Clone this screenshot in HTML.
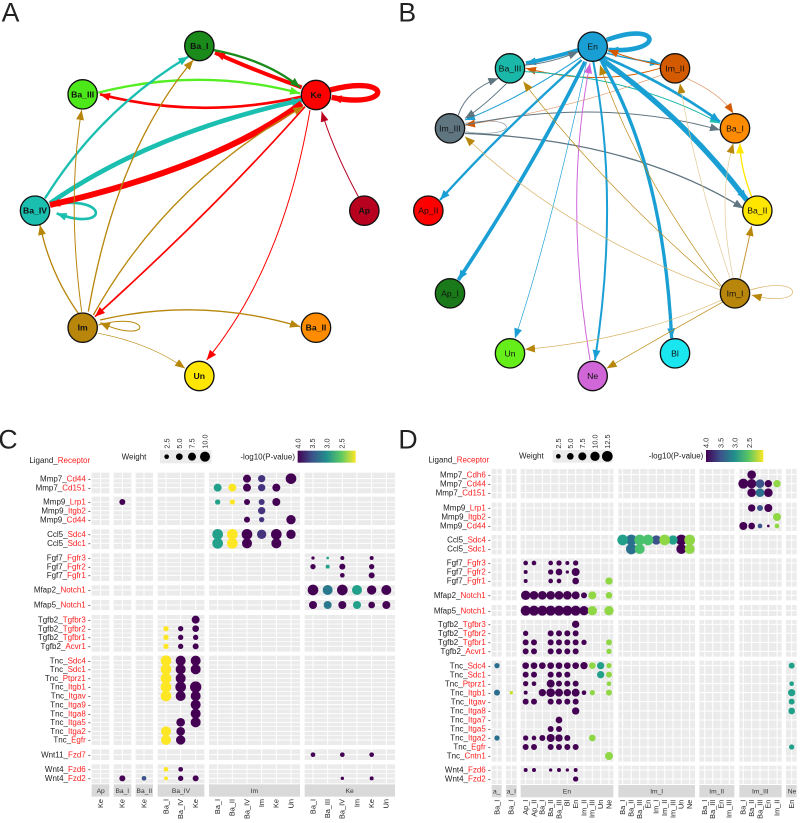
<!DOCTYPE html>
<html><head><meta charset="utf-8"><style>
html,body{margin:0;padding:0;background:#fff;}
svg{display:block;font-family:"Liberation Sans",sans-serif;}
</style></head><body>
<svg width="800" height="823" viewBox="0 0 800 823" xmlns="http://www.w3.org/2000/svg">
<defs>
<marker id="mRed" markerUnits="userSpaceOnUse" markerWidth="32" markerHeight="26" refX="30" refY="12" orient="auto"><path d="M0,0 L30,12 L0,24 z" fill="#ff0000"/></marker>
<marker id="mTeal" markerUnits="userSpaceOnUse" markerWidth="32" markerHeight="26" refX="30" refY="12" orient="auto"><path d="M0,0 L30,12 L0,24 z" fill="#1abfb0"/></marker>
<marker id="mGreen" markerUnits="userSpaceOnUse" markerWidth="32" markerHeight="26" refX="30" refY="12" orient="auto"><path d="M0,0 L30,12 L0,24 z" fill="#1a8a1a"/></marker>
<marker id="mLime" markerUnits="userSpaceOnUse" markerWidth="32" markerHeight="26" refX="30" refY="12" orient="auto"><path d="M0,0 L30,12 L0,24 z" fill="#55ee22"/></marker>
<marker id="mGold" markerUnits="userSpaceOnUse" markerWidth="32" markerHeight="26" refX="30" refY="12" orient="auto"><path d="M0,0 L30,12 L0,24 z" fill="#b8860b"/></marker>
<marker id="mCrim" markerUnits="userSpaceOnUse" markerWidth="32" markerHeight="26" refX="30" refY="12" orient="auto"><path d="M0,0 L30,12 L0,24 z" fill="#b8001f"/></marker>
<marker id="mBlue" markerUnits="userSpaceOnUse" markerWidth="32" markerHeight="26" refX="30" refY="12" orient="auto"><path d="M0,0 L30,12 L0,24 z" fill="#1a9fd4"/></marker>
<marker id="mGrey" markerUnits="userSpaceOnUse" markerWidth="32" markerHeight="26" refX="30" refY="12" orient="auto"><path d="M0,0 L30,12 L0,24 z" fill="#5f7580"/></marker>
<marker id="mOr" markerUnits="userSpaceOnUse" markerWidth="32" markerHeight="26" refX="30" refY="12" orient="auto"><path d="M0,0 L30,12 L0,24 z" fill="#d45a00"/></marker>
<marker id="mMag" markerUnits="userSpaceOnUse" markerWidth="32" markerHeight="26" refX="30" refY="12" orient="auto"><path d="M0,0 L30,12 L0,24 z" fill="#d066d8"/></marker>
<marker id="mYel" markerUnits="userSpaceOnUse" markerWidth="32" markerHeight="26" refX="30" refY="12" orient="auto"><path d="M0,0 L30,12 L0,24 z" fill="#ffe600"/></marker>
<linearGradient id="vir" x1="0" x2="1" y1="0" y2="0">
<stop offset="0" stop-color="#440154"/><stop offset="0.25" stop-color="#3b528b"/><stop offset="0.5" stop-color="#21908d"/><stop offset="0.75" stop-color="#5dc863"/><stop offset="1" stop-color="#fde725"/>
</linearGradient>
</defs>

<!-- ============ PANEL A ============ -->
<g transform="scale(0.33333)">
<text x="5" y="65" font-size="80" fill="#222">A</text>
<g fill="none">
<path d="M150,615 C330,580 330,700 170,640" stroke="#1abfb0" stroke-width="8" marker-end="url(#mTeal)"/>
<path d="M990,270 C1180,220 1180,330 995,292" stroke="#ff0000" stroke-width="16" marker-end="url(#mRed)"/>
<path d="M295,975 C460,930 460,1040 300,968" stroke="#b8860b" stroke-width="3" marker-end="url(#mGold)"/>
<path d="M905,262 Q760,210 645,158" stroke="#ff0000" stroke-width="12" marker-end="url(#mRed)"/>
<path d="M640,150 Q800,180 900,262" stroke="#1a8a1a" stroke-width="7" marker-end="url(#mGreen)"/>
<path d="M295,278 Q600,200 900,280" stroke="#55ee22" stroke-width="7" marker-end="url(#mLime)"/>
<path d="M905,290 Q600,360 300,283" stroke="#ff0000" stroke-width="8" marker-end="url(#mRed)"/>
<path d="M150,610 Q450,400 905,300" stroke="#1abfb0" stroke-width="14" marker-end="url(#mTeal)"/>
<path d="M905,310 Q650,500 150,615" stroke="#ff0000" stroke-width="18" marker-end="url(#mRed)"/>
<path d="M135,595 Q300,330 565,170" stroke="#1abfb0" stroke-width="7" marker-end="url(#mTeal)"/>
<path d="M265,935 Q350,450 580,180" stroke="#b8860b" stroke-width="4" marker-end="url(#mGold)"/>
<path d="M245,935 Q200,600 245,330" stroke="#b8860b" stroke-width="3" marker-end="url(#mGold)"/>
<path d="M235,940 Q150,820 120,675" stroke="#b8860b" stroke-width="4" marker-end="url(#mGold)"/>
<path d="M280,945 Q500,550 910,320" stroke="#b8860b" stroke-width="4" marker-end="url(#mGold)"/>
<path d="M915,320 Q650,620 285,950" stroke="#ff0000" stroke-width="5" marker-end="url(#mRed)"/>
<path d="M930,330 Q850,800 620,1080" stroke="#ff0000" stroke-width="3" marker-end="url(#mRed)"/>
<path d="M1075,590 Q1000,450 965,335" stroke="#b8001f" stroke-width="3" marker-end="url(#mCrim)"/>
<path d="M300,960 Q600,890 900,980" stroke="#b8860b" stroke-width="4" marker-end="url(#mGold)"/>
<path d="M295,1000 Q450,1030 555,1105" stroke="#b8860b" stroke-width="2" marker-end="url(#mGold)"/>
</g>
<g stroke="#111" stroke-width="4" font-size="26" font-weight="bold" text-anchor="middle">
<circle cx="598" cy="138" r="44" fill="#1a8a1a"/><text x="598" y="147" stroke="none" fill="#111">Ba_I</text>
<circle cx="248" cy="283" r="44" fill="#4de81a"/><text x="248" y="292" stroke="none" fill="#111">Ba_III</text>
<circle cx="948" cy="285" r="44" fill="#ff0000"/><text x="948" y="294" stroke="none" fill="#111">Ke</text>
<circle cx="105" cy="632" r="44" fill="#1abfb0"/><text x="105" y="641" stroke="none" fill="#111">Ba_IV</text>
<circle cx="1093" cy="632" r="44" fill="#b8001f"/><text x="1093" y="641" stroke="none" fill="#111">Ap</text>
<circle cx="248" cy="983" r="44" fill="#b8860b"/><text x="248" y="992" stroke="none" fill="#111">Im</text>
<circle cx="948" cy="983" r="44" fill="#ff8c00"/><text x="948" y="992" stroke="none" fill="#111">Ba_II</text>
<circle cx="598" cy="1128" r="44" fill="#ffe600"/><text x="598" y="1137" stroke="none" fill="#111">Un</text>
</g>
</g>

<!-- ============ PANEL B ============ -->
<g transform="translate(400,0) scale(0.33333)">
<text x="-5" y="65" font-size="80" fill="#222">B</text>
<g fill="none">
<path d="M620,120 C780,60 800,160 625,150" stroke="#1a9fd4" stroke-width="14" marker-end="url(#mBlue)"/>
<path d="M1050,870 C1220,820 1220,930 1055,885" stroke="#d8b060" stroke-width="2" marker-end="url(#mGold)"/>
<path d="M195,370 C360,340 360,420 198,395" stroke="#8a9aa0" stroke-width="2"/>
<path d="M535,150 Q450,175 378,190" stroke="#1a9fd4" stroke-width="12" marker-end="url(#mBlue)"/>
<path d="M375,195 Q450,190 535,155" stroke="#5f7580" stroke-width="3" marker-end="url(#mGrey)"/>
<path d="M620,160 Q700,180 780,190" stroke="#1a9fd4" stroke-width="4" marker-end="url(#mBlue)"/>
<path d="M780,195 Q700,180 625,150" stroke="#d45a00" stroke-width="3" marker-end="url(#mOr)"/>
<path d="M780,205 Q600,260 378,205" stroke="#d45a00" stroke-width="3" marker-end="url(#mOr)"/>
<path d="M375,215 Q700,230 960,370" stroke="#1ab8a8" stroke-width="3" marker-end="url(#mTeal)"/>
<path d="M545,170 Q350,300 195,360" stroke="#1a9fd4" stroke-width="3" marker-end="url(#mBlue)"/>
<path d="M785,225 Q500,330 195,375" stroke="#e09060" stroke-width="2" marker-end="url(#mOr)"/>
<path d="M175,345 Q200,270 295,235" stroke="#5f7580" stroke-width="3" marker-end="url(#mGrey)"/>
<path d="M320,250 Q250,320 195,355" stroke="#5f7580" stroke-width="3" marker-end="url(#mGrey)"/>
<path d="M195,375 Q600,290 960,390" stroke="#5f7580" stroke-width="3" marker-end="url(#mGrey)"/>
<path d="M195,400 Q700,420 1030,625" stroke="#5f7580" stroke-width="4" marker-end="url(#mGrey)"/>
<path d="M610,170 Q800,250 960,365" stroke="#1a9fd4" stroke-width="8" marker-end="url(#mBlue)"/>
<path d="M600,175 Q850,350 1040,600" stroke="#1a9fd4" stroke-width="16" marker-end="url(#mBlue)"/>
<path d="M545,180 Q300,400 120,600" stroke="#1a9fd4" stroke-width="7" marker-end="url(#mBlue)"/>
<path d="M555,185 Q400,500 175,840" stroke="#1a9fd4" stroke-width="11" marker-end="url(#mBlue)"/>
<path d="M560,185 Q450,700 345,1015" stroke="#1a9fd4" stroke-width="2" marker-end="url(#mBlue)"/>
<path d="M580,185 Q660,600 585,1080" stroke="#1a9fd4" stroke-width="6" marker-end="url(#mBlue)"/>
<path d="M570,1080 Q490,600 570,190" stroke="#d066d8" stroke-width="3" marker-end="url(#mMag)"/>
<path d="M605,185 Q790,500 815,1015" stroke="#1a9fd4" stroke-width="10" marker-end="url(#mBlue)"/>
<path d="M965,860 Q700,500 600,195" stroke="#b8860b" stroke-width="2" marker-end="url(#mGold)"/>
<path d="M960,860 Q600,550 370,245" stroke="#b8860b" stroke-width="2" marker-end="url(#mGold)"/>
<path d="M960,870 Q500,700 195,410" stroke="#d8b060" stroke-width="2" marker-end="url(#mGold)"/>
<path d="M990,835 Q880,500 840,250" stroke="#e0c890" stroke-width="2" marker-end="url(#mGold)"/>
<path d="M1000,835 Q950,600 1000,430" stroke="#e0c890" stroke-width="2" marker-end="url(#mGold)"/>
<path d="M1020,835 Q1040,750 1055,678" stroke="#c89838" stroke-width="3" marker-end="url(#mGold)"/>
<path d="M1055,590 Q1020,500 1020,430" stroke="#ffe600" stroke-width="4" marker-end="url(#mYel)"/>
<path d="M860,235 Q960,280 1000,340" stroke="#e09060" stroke-width="2" marker-end="url(#mOr)"/>
<path d="M965,900 Q700,1020 375,1048" stroke="#d8b060" stroke-width="2" marker-end="url(#mGold)"/>
<path d="M970,905 Q800,1000 620,1105" stroke="#b8860b" stroke-width="2" marker-end="url(#mGold)"/>
</g>
<g stroke="#111" stroke-width="4" font-size="26" text-anchor="middle">
<circle cx="578" cy="140" r="44" fill="#1a9fd4"/><text x="578" y="149" stroke="none" fill="#111">En</text>
<circle cx="330" cy="205" r="44" fill="#1ab8a8"/><text x="330" y="214" stroke="none" fill="#111">Ba_III</text>
<circle cx="825" cy="205" r="44" fill="#d45a00"/><text x="825" y="214" stroke="none" fill="#111">Im_II</text>
<circle cx="150" cy="385" r="44" fill="#5f7580"/><text x="150" y="394" stroke="none" fill="#111">Im_III</text>
<circle cx="1005" cy="385" r="44" fill="#ff8c00"/><text x="1005" y="394" stroke="none" fill="#111">Ba_I</text>
<circle cx="85" cy="632" r="44" fill="#ff0000"/><text x="85" y="641" stroke="none" fill="#111">Ap_II</text>
<circle cx="1072" cy="632" r="44" fill="#ffe600"/><text x="1072" y="641" stroke="none" fill="#111">Ba_II</text>
<circle cx="150" cy="880" r="44" fill="#1a7a1a"/><text x="150" y="889" stroke="none" fill="#111">Ap_I</text>
<circle cx="1005" cy="880" r="44" fill="#b8860b"/><text x="1005" y="889" stroke="none" fill="#111">Im_I</text>
<circle cx="330" cy="1060" r="44" fill="#66ee1a"/><text x="330" y="1069" stroke="none" fill="#111">Un</text>
<circle cx="825" cy="1060" r="44" fill="#1ae6f0"/><text x="825" y="1069" stroke="none" fill="#111">Bl</text>
<circle cx="578" cy="1128" r="44" fill="#d066d8"/><text x="578" y="1137" stroke="none" fill="#111">Ne</text>
</g>
</g>

<!-- ============ PANEL C ============ -->
<g transform="translate(0,400) scale(0.33333)">
<text x="-5" y="145" font-size="80" fill="#222">C</text>
<text x="88" y="189" font-size="24" fill="#222">Ligand_<tspan fill="#ff2020">Receptor</tspan></text>
<text x="365" y="178" font-size="24" fill="#222">Weight</text>
<rect x="480" y="150" width="155" height="40" fill="#ebebeb"/>
<g fill="#000"><circle cx="500" cy="170" r="7"/><circle cx="538" cy="170" r="10"/><circle cx="576" cy="170" r="12"/><circle cx="615" cy="170" r="15"/></g>
<g font-size="22" fill="#333" text-anchor="start">
<text transform="translate(508,146) rotate(-90)">2.5</text>
<text transform="translate(546,146) rotate(-90)">5.0</text>
<text transform="translate(584,146) rotate(-90)">7.5</text>
<text transform="translate(623,146) rotate(-90)">10.0</text>
<text transform="translate(901,146) rotate(-90)">4.0</text>
<text transform="translate(945,146) rotate(-90)">3.5</text>
<text transform="translate(989,146) rotate(-90)">3.0</text>
<text transform="translate(1033,146) rotate(-90)">2.5</text>
</g>
<text x="885" y="178" font-size="24" fill="#222" text-anchor="end">-log10(P-value)</text>
<rect x="893" y="152" width="174" height="36" fill="url(#vir)"/>
<g fill="#ebebeb">
<path d="M275,218h53v62h-53z M341,218h53v62h-53z M407,218h52v62h-52z M473,218h140v62h-140z M627,218h273v62h-273z M914,218h271v62h-271z"/>
<path d="M275,290h53v85h-53z M341,290h53v85h-53z M407,290h52v85h-52z M473,290h140v85h-140z M627,290h273v85h-273z M914,290h271v85h-271z"/>
<path d="M275,388h53v59h-53z M341,388h53v59h-53z M407,388h52v59h-52z M473,388h140v59h-140z M627,388h273v59h-273z M914,388h271v59h-271z"/>
<path d="M275,460h53v83h-53z M341,460h53v83h-53z M407,460h52v83h-52z M473,460h140v83h-140z M627,460h273v83h-273z M914,460h271v83h-271z"/>
<path d="M275,556h53v31h-53z M341,556h53v31h-53z M407,556h52v31h-52z M473,556h140v31h-140z M627,556h273v31h-273z M914,556h271v31h-271z"/>
<path d="M275,600h53v30h-53z M341,600h53v30h-53z M407,600h52v30h-52z M473,600h140v30h-140z M627,600h273v30h-273z M914,600h271v30h-271z"/>
<path d="M275,645h53v110h-53z M341,645h53v110h-53z M407,645h52v110h-52z M473,645h140v110h-140z M627,645h273v110h-273z M914,645h271v110h-271z"/>
<path d="M275,767h53v268h-53z M341,767h53v268h-53z M407,767h52v268h-52z M473,767h140v268h-140z M627,767h273v268h-273z M914,767h271v268h-271z"/>
<path d="M275,1048h53v32h-53z M341,1048h53v32h-53z M407,1048h52v32h-52z M473,1048h140v32h-140z M627,1048h273v32h-273z M914,1048h271v32h-271z"/>
<path d="M275,1093h53v57h-53z M341,1093h53v57h-53z M407,1093h52v57h-52z M473,1093h140v57h-140z M627,1093h273v57h-273z M914,1093h271v57h-271z"/>
</g>
<g fill="#d9d9d9">
<rect x="275" y="1153" width="53" height="37"/><rect x="341" y="1153" width="53" height="37"/><rect x="407" y="1153" width="52" height="37"/><rect x="473" y="1153" width="140" height="37"/><rect x="627" y="1153" width="273" height="37"/><rect x="914" y="1153" width="271" height="37"/>
</g>
<g font-size="20" fill="#333" text-anchor="middle">
<text x="302" y="1179">Ap</text><text x="367" y="1179">Ba_I</text><text x="433" y="1179">Ba_II</text><text x="543" y="1179">Ba_IV</text><text x="763" y="1179">Im</text><text x="1049" y="1179">Ke</text>
</g>
<g stroke="#fff" stroke-width="3">
<path d="M302,218V1150 M367,218V1150 M432,218V1150 M498,218V1150 M542,218V1150 M587,218V1150 M653,218V1150 M697,218V1150 M741,218V1150 M785,218V1150 M829,218V1150 M873,218V1150 M939,218V1150 M983,218V1150 M1027,218V1150 M1071,218V1150 M1115,218V1150 M1159,218V1150"/>
<path d="M275,236H1185 M275,263H1185 M275,306H1185 M275,332H1185 M275,359H1185 M275,403H1185 M275,430H1185 M275,474H1185 M275,500H1185 M275,526H1185 M275,570H1185 M275,615H1185 M275,659H1185 M275,686H1185 M275,712H1185 M275,739H1185 M275,782H1185 M275,808H1185 M275,835H1185 M275,861H1185 M275,888H1185 M275,914H1185 M275,941H1185 M275,967H1185 M275,994H1185 M275,1020H1185 M275,1064H1185 M275,1108H1185 M275,1135H1185"/>
</g>
<g stroke="#fff" stroke-width="2" fill="none">
<path d="M275,249H1185 M275,319H1185 M275,345H1185 M275,416H1185 M275,487H1185 M275,513H1185 M275,672H1185 M275,699H1185 M275,725H1185 M275,795H1185 M275,821H1185 M275,848H1185 M275,874H1185 M275,901H1185 M275,927H1185 M275,954H1185 M275,980H1185 M275,1007H1185 M275,1121H1185"/>
</g>
<g font-size="24" fill="#222" text-anchor="end">
<text x="272" y="244">Mmp7_<tspan fill="#ff2020">Cd44</tspan> -</text>
<text x="272" y="271">Mmp7_<tspan fill="#ff2020">Cd151</tspan> -</text>
<text x="272" y="314">Mmp9_<tspan fill="#ff2020">Lrp1</tspan> -</text>
<text x="272" y="340">Mmp9_<tspan fill="#ff2020">Itgb2</tspan> -</text>
<text x="272" y="367">Mmp9_<tspan fill="#ff2020">Cd44</tspan> -</text>
<text x="272" y="411">Ccl5_<tspan fill="#ff2020">Sdc4</tspan> -</text>
<text x="272" y="438">Ccl5_<tspan fill="#ff2020">Sdc1</tspan> -</text>
<text x="272" y="482">Fgf7_<tspan fill="#ff2020">Fgfr3</tspan> -</text>
<text x="272" y="508">Fgf7_<tspan fill="#ff2020">Fgfr2</tspan> -</text>
<text x="272" y="534">Fgf7_<tspan fill="#ff2020">Fgfr1</tspan> -</text>
<text x="272" y="578">Mfap2_<tspan fill="#ff2020">Notch1</tspan> -</text>
<text x="272" y="623">Mfap5_<tspan fill="#ff2020">Notch1</tspan> -</text>
<text x="272" y="667">Tgfb2_<tspan fill="#ff2020">Tgfbr3</tspan> -</text>
<text x="272" y="694">Tgfb2_<tspan fill="#ff2020">Tgfbr2</tspan> -</text>
<text x="272" y="720">Tgfb2_<tspan fill="#ff2020">Tgfbr1</tspan> -</text>
<text x="272" y="747">Tgfb2_<tspan fill="#ff2020">Acvr1</tspan> -</text>
<text x="272" y="790">Tnc_<tspan fill="#ff2020">Sdc4</tspan> -</text>
<text x="272" y="816">Tnc_<tspan fill="#ff2020">Sdc1</tspan> -</text>
<text x="272" y="843">Tnc_<tspan fill="#ff2020">Ptprz1</tspan> -</text>
<text x="272" y="869">Tnc_<tspan fill="#ff2020">Itgb1</tspan> -</text>
<text x="272" y="896">Tnc_<tspan fill="#ff2020">Itgav</tspan> -</text>
<text x="272" y="922">Tnc_<tspan fill="#ff2020">Itga9</tspan> -</text>
<text x="272" y="949">Tnc_<tspan fill="#ff2020">Itga8</tspan> -</text>
<text x="272" y="975">Tnc_<tspan fill="#ff2020">Itga5</tspan> -</text>
<text x="272" y="1002">Tnc_<tspan fill="#ff2020">Itga2</tspan> -</text>
<text x="272" y="1028">Tnc_<tspan fill="#ff2020">Egfr</tspan> -</text>
<text x="272" y="1072">Wnt11_<tspan fill="#ff2020">Fzd7</tspan> -</text>
<text x="272" y="1116">Wnt4_<tspan fill="#ff2020">Fzd6</tspan> -</text>
<text x="272" y="1143">Wnt4_<tspan fill="#ff2020">Fzd2</tspan> -</text>
</g>
<g font-size="22" fill="#222" text-anchor="end">
<text transform="translate(309,1197) rotate(-90)">Ke</text>
<text transform="translate(374,1197) rotate(-90)">Ke</text>
<text transform="translate(439,1197) rotate(-90)">Ke</text>
<text transform="translate(505,1197) rotate(-90)">Ba_I</text>
<text transform="translate(549,1197) rotate(-90)">Ba_IV</text>
<text transform="translate(594,1197) rotate(-90)">Ke</text>
<text transform="translate(660,1197) rotate(-90)">Ba_I</text>
<text transform="translate(704,1197) rotate(-90)">Ba_II</text>
<text transform="translate(748,1197) rotate(-90)">Ba_IV</text>
<text transform="translate(792,1197) rotate(-90)">Im</text>
<text transform="translate(836,1197) rotate(-90)">Ke</text>
<text transform="translate(880,1197) rotate(-90)">Un</text>
<text transform="translate(946,1197) rotate(-90)">Ba_I</text>
<text transform="translate(990,1197) rotate(-90)">Ba_III</text>
<text transform="translate(1034,1197) rotate(-90)">Ba_IV</text>
<text transform="translate(1078,1197) rotate(-90)">Im</text>
<text transform="translate(1122,1197) rotate(-90)">Ke</text>
<text transform="translate(1166,1197) rotate(-90)">Un</text>
</g>
<g fill="#440154">
<circle cx="741" cy="236" r="12"/><circle cx="873" cy="236" r="16"/>
<circle cx="741" cy="263" r="12"/><circle cx="829" cy="263" r="12"/>
<circle cx="367" cy="306" r="9"/><circle cx="741" cy="306" r="9"/><circle cx="829" cy="306" r="12"/>
<circle cx="741" cy="359" r="9"/><circle cx="873" cy="359" r="14"/>
<circle cx="741" cy="403" r="16"/><circle cx="829" cy="403" r="16"/><circle cx="873" cy="403" r="14"/>
<circle cx="741" cy="430" r="15"/><circle cx="829" cy="430" r="15"/>
<circle cx="939" cy="474" r="5"/><circle cx="1027" cy="474" r="6"/><circle cx="1115" cy="474" r="6"/>
<circle cx="939" cy="500" r="8"/><circle cx="1027" cy="500" r="9"/><circle cx="1115" cy="500" r="8"/>
<circle cx="1027" cy="526" r="7"/><circle cx="1115" cy="526" r="9"/>
<circle cx="939" cy="570" r="16"/><circle cx="1027" cy="570" r="16"/><circle cx="1115" cy="570" r="14"/><circle cx="1159" cy="570" r="15"/>
<circle cx="939" cy="615" r="12"/><circle cx="1027" cy="615" r="12"/><circle cx="1115" cy="615" r="10"/><circle cx="1159" cy="615" r="12"/>
<circle cx="587" cy="659" r="12"/>
<circle cx="542" cy="686" r="8"/><circle cx="587" cy="686" r="10"/>
<circle cx="542" cy="712" r="8"/><circle cx="587" cy="712" r="8"/>
<circle cx="542" cy="739" r="8"/><circle cx="587" cy="739" r="9"/>
<circle cx="542" cy="782" r="15"/><circle cx="587" cy="782" r="15"/>
<circle cx="542" cy="808" r="15"/><circle cx="587" cy="808" r="15"/>
<circle cx="542" cy="835" r="15"/>
<circle cx="542" cy="861" r="16"/><circle cx="587" cy="861" r="17"/>
<circle cx="542" cy="888" r="15"/><circle cx="587" cy="888" r="15"/>
<circle cx="587" cy="914" r="15"/>
<circle cx="587" cy="941" r="15"/>
<circle cx="542" cy="967" r="13"/><circle cx="587" cy="967" r="15"/>
<circle cx="542" cy="994" r="13"/>
<circle cx="542" cy="1020" r="14"/>
<circle cx="939" cy="1064" r="7"/><circle cx="1027" cy="1064" r="7"/><circle cx="1115" cy="1064" r="7"/>
<circle cx="542" cy="1108" r="7"/>
<circle cx="367" cy="1135" r="9"/><circle cx="542" cy="1135" r="8"/><circle cx="587" cy="1135" r="9"/><circle cx="1027" cy="1135" r="5"/><circle cx="1115" cy="1135" r="6"/>
</g>
<g fill="#46337e">
<circle cx="785" cy="236" r="11"/><circle cx="785" cy="263" r="11"/><circle cx="785" cy="306" r="9"/><circle cx="785" cy="332" r="11"/><circle cx="785" cy="359" r="8"/><circle cx="785" cy="403" r="14"/>
</g>
<g fill="#22a08a">
<circle cx="653" cy="263" r="12"/><circle cx="653" cy="306" r="8"/><circle cx="653" cy="403" r="16"/><circle cx="653" cy="430" r="16"/><circle cx="983" cy="474" r="4"/><circle cx="983" cy="500" r="6"/><circle cx="1071" cy="570" r="15"/><circle cx="1071" cy="615" r="12"/>
</g>
<g fill="#2a788e"><circle cx="983" cy="570" r="15"/><circle cx="983" cy="615" r="12"/></g>
<circle cx="432" cy="1135" r="7" fill="#3b528b"/>
<g fill="#fde725">
<circle cx="697" cy="263" r="12"/><circle cx="697" cy="306" r="8"/><circle cx="697" cy="403" r="16"/><circle cx="697" cy="430" r="16"/>
<circle cx="498" cy="686" r="8"/><circle cx="498" cy="712" r="8"/><circle cx="498" cy="739" r="8"/>
<circle cx="498" cy="782" r="16"/><circle cx="498" cy="808" r="16"/><circle cx="498" cy="835" r="16"/><circle cx="498" cy="861" r="16"/><circle cx="498" cy="888" r="16"/>
<circle cx="498" cy="994" r="15"/><circle cx="498" cy="1020" r="15"/>
<circle cx="498" cy="1108" r="7"/><circle cx="498" cy="1135" r="6"/>
</g>
</g>

<!-- ============ PANEL D ============ -->
<g transform="translate(400,400) scale(0.33333)">
<text x="-5" y="145" font-size="80" fill="#222">D</text>
<text x="85" y="188" font-size="24" fill="#222">Ligand_<tspan fill="#ff2020">Receptor</tspan></text>
<text x="357" y="176" font-size="24" fill="#222">Weight</text>
<rect x="458" y="150" width="179" height="38" fill="#ebebeb"/>
<g fill="#000"><circle cx="475" cy="169" r="7"/><circle cx="511" cy="169" r="10"/><circle cx="547" cy="169" r="12"/><circle cx="585" cy="169" r="14"/><circle cx="622" cy="169" r="16"/></g>
<g font-size="22" fill="#333">
<text transform="translate(483,146) rotate(-90)">2.5</text>
<text transform="translate(519,146) rotate(-90)">5.0</text>
<text transform="translate(555,146) rotate(-90)">7.5</text>
<text transform="translate(593,146) rotate(-90)">10.0</text>
<text transform="translate(630,146) rotate(-90)">12.5</text>
<text transform="translate(926,144) rotate(-90)">4.0</text>
<text transform="translate(970,144) rotate(-90)">3.5</text>
<text transform="translate(1013,144) rotate(-90)">3.0</text>
<text transform="translate(1056,144) rotate(-90)">2.5</text>
</g>
<text x="910" y="176" font-size="24" fill="#222" text-anchor="end">-log10(P-value)</text>
<rect x="918" y="150" width="172" height="36" fill="url(#vir)"/>
<g fill="#ebebeb">
<path d="M275,207h30v88h-30z M318,207h32v88h-32z M362,207h278v88h-278z M655,207h230v88h-230z M898,207h105v88h-105z M1018,207h127v88h-127z M1158,207h32v88h-32z"/>
<path d="M275,308h30v85h-30z M318,308h32v85h-32z M362,308h278v85h-278z M655,308h230v85h-230z M898,308h105v85h-105z M1018,308h127v85h-127z M1158,308h32v85h-32z"/>
<path d="M275,405h30v58h-30z M318,405h32v58h-32z M362,405h278v58h-278z M655,405h230v58h-230z M898,405h105v58h-105z M1018,405h127v58h-127z M1158,405h32v58h-32z"/>
<path d="M275,475h30v85h-30z M318,475h32v85h-32z M362,475h278v85h-278z M655,475h230v85h-230z M898,475h105v85h-105z M1018,475h127v85h-127z M1158,475h32v85h-32z"/>
<path d="M275,571h30v30h-30z M318,571h32v30h-32z M362,571h278v30h-278z M655,571h230v30h-230z M898,571h105v30h-105z M1018,571h127v30h-127z M1158,571h32v30h-32z"/>
<path d="M275,615h30v33h-30z M318,615h32v33h-32z M362,615h278v33h-278z M655,615h230v33h-230z M898,615h105v33h-105z M1018,615h127v33h-127z M1158,615h32v33h-32z"/>
<path d="M275,660h30v110h-30z M318,660h32v110h-32z M362,660h278v110h-278z M655,660h230v110h-230z M898,660h105v110h-105z M1018,660h127v110h-127z M1158,660h32v110h-32z"/>
<path d="M275,782h30v303h-30z M318,782h32v303h-32z M362,782h278v303h-278z M655,782h230v303h-230z M898,782h105v303h-105z M1018,782h127v303h-127z M1158,782h32v303h-32z"/>
<path d="M275,1097h30v55h-30z M318,1097h32v55h-32z M362,1097h278v55h-278z M655,1097h230v55h-230z M898,1097h105v55h-105z M1018,1097h127v55h-127z M1158,1097h32v55h-32z"/>
</g>
<g fill="#d9d9d9">
<rect x="275" y="1155" width="30" height="37"/><rect x="318" y="1155" width="32" height="37"/><rect x="362" y="1155" width="278" height="37"/><rect x="655" y="1155" width="230" height="37"/><rect x="898" y="1155" width="105" height="37"/><rect x="1018" y="1155" width="127" height="37"/><rect x="1158" y="1155" width="32" height="37"/>
</g>
<g font-size="20" fill="#333" text-anchor="middle">
<text x="290" y="1181">a_</text><text x="334" y="1181">a_I</text><text x="501" y="1181">En</text><text x="770" y="1181">Im_I</text><text x="950" y="1181">Im_II</text><text x="1081" y="1181">Im_III</text><text x="1176" y="1181">Ne</text>
</g>
<g stroke="#fff" stroke-width="3">
<path d="M291,207V1152 M334,207V1152 M377,207V1152 M402,207V1152 M427,207V1152 M452,207V1152 M477,207V1152 M502,207V1152 M527,207V1152 M552,207V1152 M577,207V1152 M602,207V1152 M627,207V1152 M668,207V1152 M694,207V1152 M719,207V1152 M744,207V1152 M769,207V1152 M794,207V1152 M819,207V1152 M844,207V1152 M869,207V1152 M914,207V1152 M938,207V1152 M963,207V1152 M988,207V1152 M1030,207V1152 M1055,207V1152 M1080,207V1152 M1105,207V1152 M1131,207V1152 M1175,207V1152"/>
<path d="M275,224H1190 M275,251H1190 M275,278H1190 M275,324H1190 M275,351H1190 M275,378H1190 M275,420H1190 M275,447H1190 M275,489H1190 M275,516H1190 M275,543H1190 M275,586H1190 M275,632H1190 M275,673H1190 M275,700H1190 M275,727H1190 M275,754H1190 M275,797H1190 M275,824H1190 M275,851H1190 M275,878H1190 M275,905H1190 M275,933H1190 M275,960H1190 M275,987H1190 M275,1014H1190 M275,1041H1190 M275,1068H1190 M275,1110H1190 M275,1137H1190"/>
</g>
<g font-size="24" fill="#222" text-anchor="end">
<text x="272" y="232">Mmp7_<tspan fill="#ff2020">Cdh6</tspan> -</text>
<text x="272" y="259">Mmp7_<tspan fill="#ff2020">Cd44</tspan> -</text>
<text x="272" y="286">Mmp7_<tspan fill="#ff2020">Cd151</tspan> -</text>
<text x="272" y="332">Mmp9_<tspan fill="#ff2020">Lrp1</tspan> -</text>
<text x="272" y="359">Mmp9_<tspan fill="#ff2020">Itgb2</tspan> -</text>
<text x="272" y="386">Mmp9_<tspan fill="#ff2020">Cd44</tspan> -</text>
<text x="272" y="428">Ccl5_<tspan fill="#ff2020">Sdc4</tspan> -</text>
<text x="272" y="455">Ccl5_<tspan fill="#ff2020">Sdc1</tspan> -</text>
<text x="272" y="497">Fgf7_<tspan fill="#ff2020">Fgfr3</tspan> -</text>
<text x="272" y="524">Fgf7_<tspan fill="#ff2020">Fgfr2</tspan> -</text>
<text x="272" y="551">Fgf7_<tspan fill="#ff2020">Fgfr1</tspan> -</text>
<text x="272" y="594">Mfap2_<tspan fill="#ff2020">Notch1</tspan> -</text>
<text x="272" y="640">Mfap5_<tspan fill="#ff2020">Notch1</tspan> -</text>
<text x="272" y="681">Tgfb2_<tspan fill="#ff2020">Tgfbr3</tspan> -</text>
<text x="272" y="708">Tgfb2_<tspan fill="#ff2020">Tgfbr2</tspan> -</text>
<text x="272" y="735">Tgfb2_<tspan fill="#ff2020">Tgfbr1</tspan> -</text>
<text x="272" y="762">Tgfb2_<tspan fill="#ff2020">Acvr1</tspan> -</text>
<text x="272" y="805">Tnc_<tspan fill="#ff2020">Sdc4</tspan> -</text>
<text x="272" y="832">Tnc_<tspan fill="#ff2020">Sdc1</tspan> -</text>
<text x="272" y="859">Tnc_<tspan fill="#ff2020">Ptprz1</tspan> -</text>
<text x="272" y="886">Tnc_<tspan fill="#ff2020">Itgb1</tspan> -</text>
<text x="272" y="913">Tnc_<tspan fill="#ff2020">Itgav</tspan> -</text>
<text x="272" y="941">Tnc_<tspan fill="#ff2020">Itga8</tspan> -</text>
<text x="272" y="968">Tnc_<tspan fill="#ff2020">Itga7</tspan> -</text>
<text x="272" y="995">Tnc_<tspan fill="#ff2020">Itga5</tspan> -</text>
<text x="272" y="1022">Tnc_<tspan fill="#ff2020">Itga2</tspan> -</text>
<text x="272" y="1049">Tnc_<tspan fill="#ff2020">Egfr</tspan> -</text>
<text x="272" y="1076">Tnc_<tspan fill="#ff2020">Cntn1</tspan> -</text>
<text x="272" y="1118">Wnt4_<tspan fill="#ff2020">Fzd6</tspan> -</text>
<text x="272" y="1145">Wnt4_<tspan fill="#ff2020">Fzd2</tspan> -</text>
</g>
<g font-size="22" fill="#222" text-anchor="end">
<text transform="translate(298,1199) rotate(-90)">Ba_I</text>
<text transform="translate(341,1199) rotate(-90)">Ba_I</text>
<text transform="translate(384,1199) rotate(-90)">Ap_I</text>
<text transform="translate(409,1199) rotate(-90)">Ap_II</text>
<text transform="translate(434,1199) rotate(-90)">Ba_I</text>
<text transform="translate(459,1199) rotate(-90)">Ba_II</text>
<text transform="translate(484,1199) rotate(-90)">Ba_III</text>
<text transform="translate(509,1199) rotate(-90)">Bl</text>
<text transform="translate(534,1199) rotate(-90)">En</text>
<text transform="translate(559,1199) rotate(-90)">Im_II</text>
<text transform="translate(584,1199) rotate(-90)">Im_III</text>
<text transform="translate(609,1199) rotate(-90)">Un</text>
<text transform="translate(634,1199) rotate(-90)">Ne</text>
<text transform="translate(675,1199) rotate(-90)">Ba_I</text>
<text transform="translate(701,1199) rotate(-90)">Ba_II</text>
<text transform="translate(726,1199) rotate(-90)">Ba_III</text>
<text transform="translate(751,1199) rotate(-90)">En</text>
<text transform="translate(776,1199) rotate(-90)">Im_I</text>
<text transform="translate(801,1199) rotate(-90)">Im_II</text>
<text transform="translate(826,1199) rotate(-90)">Im_III</text>
<text transform="translate(851,1199) rotate(-90)">Un</text>
<text transform="translate(876,1199) rotate(-90)">Ne</text>
<text transform="translate(921,1199) rotate(-90)">Ba_I</text>
<text transform="translate(945,1199) rotate(-90)">Ba_III</text>
<text transform="translate(970,1199) rotate(-90)">En</text>
<text transform="translate(995,1199) rotate(-90)">Im_III</text>
<text transform="translate(1037,1199) rotate(-90)">Ba_I</text>
<text transform="translate(1062,1199) rotate(-90)">Ba_II</text>
<text transform="translate(1087,1199) rotate(-90)">Ba_III</text>
<text transform="translate(1112,1199) rotate(-90)">En</text>
<text transform="translate(1138,1199) rotate(-90)">Im_II</text>
<text transform="translate(1182,1199) rotate(-90)">En</text>
</g>
<g fill="#440154">
<circle cx="1055" cy="224" r="13"/>
<circle cx="1030" cy="251" r="15"/><circle cx="1055" cy="251" r="14"/><circle cx="1105" cy="251" r="11"/>
<circle cx="1055" cy="278" r="13"/><circle cx="1105" cy="278" r="13"/>
<circle cx="1055" cy="324" r="11"/><circle cx="1105" cy="324" r="12"/>
<circle cx="1030" cy="378" r="12"/><circle cx="1055" cy="378" r="10"/><circle cx="1105" cy="378" r="4"/>
<circle cx="844" cy="420" r="16"/><circle cx="844" cy="447" r="15"/>
<circle cx="377" cy="489" r="7"/><circle cx="402" cy="489" r="7"/><circle cx="452" cy="489" r="7"/><circle cx="477" cy="489" r="8"/><circle cx="502" cy="489" r="6"/><circle cx="527" cy="489" r="8"/>
<circle cx="377" cy="516" r="6"/><circle cx="452" cy="516" r="8"/><circle cx="477" cy="516" r="10"/><circle cx="502" cy="516" r="5"/><circle cx="527" cy="516" r="12"/>
<circle cx="377" cy="543" r="6"/><circle cx="452" cy="543" r="7"/><circle cx="477" cy="543" r="7"/><circle cx="527" cy="543" r="10"/>
<circle cx="377" cy="586" r="14"/><circle cx="402" cy="586" r="13"/><circle cx="427" cy="586" r="13"/><circle cx="452" cy="586" r="13"/><circle cx="477" cy="586" r="13"/><circle cx="502" cy="586" r="13"/><circle cx="527" cy="586" r="12"/><circle cx="552" cy="586" r="9"/>
<circle cx="377" cy="632" r="15"/><circle cx="402" cy="632" r="15"/><circle cx="427" cy="632" r="15"/><circle cx="452" cy="632" r="15"/><circle cx="477" cy="632" r="15"/><circle cx="502" cy="632" r="15"/><circle cx="527" cy="632" r="15"/><circle cx="552" cy="632" r="14"/>
<circle cx="527" cy="673" r="11"/>
<circle cx="377" cy="700" r="8"/><circle cx="452" cy="700" r="9"/><circle cx="477" cy="700" r="9"/><circle cx="502" cy="700" r="9"/><circle cx="527" cy="700" r="9"/>
<circle cx="377" cy="727" r="9"/><circle cx="402" cy="727" r="9"/><circle cx="452" cy="727" r="9"/><circle cx="477" cy="727" r="9"/><circle cx="502" cy="727" r="9"/><circle cx="527" cy="727" r="9"/><circle cx="552" cy="727" r="8"/>
<circle cx="377" cy="754" r="9"/><circle cx="402" cy="754" r="9"/><circle cx="452" cy="754" r="9"/><circle cx="477" cy="754" r="9"/><circle cx="502" cy="754" r="9"/><circle cx="527" cy="754" r="9"/>
<circle cx="377" cy="797" r="10"/><circle cx="402" cy="797" r="10"/><circle cx="427" cy="797" r="10"/><circle cx="452" cy="797" r="10"/><circle cx="477" cy="797" r="10"/><circle cx="502" cy="797" r="10"/><circle cx="527" cy="797" r="10"/><circle cx="552" cy="797" r="11"/>
<circle cx="377" cy="824" r="9"/><circle cx="402" cy="824" r="9"/><circle cx="452" cy="824" r="9"/><circle cx="477" cy="824" r="9"/><circle cx="502" cy="824" r="9"/>
<circle cx="377" cy="851" r="8"/><circle cx="402" cy="851" r="7"/><circle cx="452" cy="851" r="12"/><circle cx="477" cy="851" r="9"/><circle cx="502" cy="851" r="9"/><circle cx="527" cy="851" r="9"/>
<circle cx="377" cy="878" r="6"/><circle cx="427" cy="878" r="11"/><circle cx="452" cy="878" r="13"/><circle cx="477" cy="878" r="12"/><circle cx="502" cy="878" r="11"/><circle cx="527" cy="878" r="12"/><circle cx="552" cy="878" r="7"/>
<circle cx="377" cy="905" r="9"/><circle cx="402" cy="905" r="9"/><circle cx="452" cy="905" r="9"/><circle cx="477" cy="905" r="9"/><circle cx="502" cy="905" r="9"/><circle cx="527" cy="905" r="9"/>
<circle cx="527" cy="933" r="11"/>
<circle cx="477" cy="960" r="10"/>
<circle cx="452" cy="987" r="9"/><circle cx="477" cy="987" r="9"/>
<circle cx="377" cy="1014" r="8"/><circle cx="402" cy="1014" r="7"/><circle cx="427" cy="1014" r="9"/><circle cx="452" cy="1014" r="12"/><circle cx="477" cy="1014" r="11"/><circle cx="502" cy="1014" r="9"/>
<circle cx="377" cy="1041" r="9"/><circle cx="402" cy="1041" r="9"/><circle cx="452" cy="1041" r="9"/><circle cx="477" cy="1041" r="9"/><circle cx="502" cy="1041" r="9"/><circle cx="527" cy="1041" r="9"/>
<circle cx="377" cy="1110" r="6"/><circle cx="402" cy="1110" r="6"/><circle cx="452" cy="1110" r="5"/><circle cx="477" cy="1110" r="6"/><circle cx="502" cy="1110" r="5"/><circle cx="527" cy="1110" r="6"/>
<circle cx="527" cy="1137" r="8"/>
</g>
<g fill="#3b528b"><circle cx="1080" cy="251" r="13"/><circle cx="1080" cy="324" r="9"/><circle cx="1080" cy="378" r="7"/><circle cx="769" cy="420" r="14"/></g>
<g fill="#2a6f8e"><circle cx="1080" cy="278" r="13"/><circle cx="694" cy="420" r="16"/><circle cx="694" cy="447" r="16"/><circle cx="291" cy="797" r="8"/><circle cx="291" cy="878" r="9"/><circle cx="291" cy="1014" r="8"/></g>
<g fill="#22a08a"><circle cx="668" cy="420" r="16"/><circle cx="819" cy="420" r="14"/><circle cx="602" cy="797" r="11"/><circle cx="602" cy="824" r="11"/>
<circle cx="1175" cy="797" r="9"/><circle cx="1175" cy="851" r="7"/><circle cx="1175" cy="878" r="11"/><circle cx="1175" cy="905" r="9"/><circle cx="1175" cy="933" r="10"/><circle cx="1175" cy="1041" r="8"/></g>
<g fill="#4ac16d"><circle cx="719" cy="420" r="16"/><circle cx="744" cy="420" r="16"/><circle cx="719" cy="447" r="15"/></g>
<g fill="#8fd744">
<circle cx="1131" cy="251" r="11"/><circle cx="1131" cy="351" r="12"/><circle cx="1131" cy="378" r="7"/>
<circle cx="794" cy="420" r="16"/><circle cx="869" cy="420" r="16"/><circle cx="869" cy="447" r="15"/>
<circle cx="627" cy="543" r="11"/><circle cx="577" cy="586" r="12"/><circle cx="627" cy="586" r="10"/><circle cx="577" cy="632" r="14"/><circle cx="627" cy="632" r="14"/>
<circle cx="627" cy="727" r="9"/><circle cx="627" cy="754" r="8"/>
<circle cx="577" cy="797" r="10"/><circle cx="627" cy="797" r="8"/><circle cx="627" cy="824" r="9"/><circle cx="627" cy="851" r="7"/><circle cx="577" cy="878" r="8"/><circle cx="627" cy="878" r="9"/><circle cx="577" cy="1014" r="10"/><circle cx="627" cy="1068" r="12"/>
</g>
<circle cx="334" cy="878" r="5" fill="#c8e020"/>
</g>
</svg>
</body></html>
